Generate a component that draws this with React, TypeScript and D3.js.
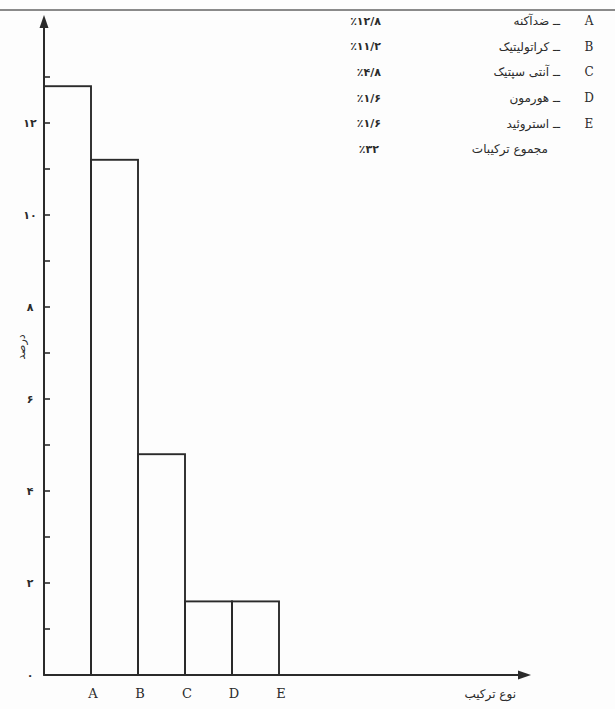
import React from "react";
import * as d3 from "d3";

const categories = ["A", "B", "C", "D", "E"];
const values = [12.8, 11.2, 4.8, 1.6, 1.6];
const legendNames = ["ضدآکنه", "کراتولیتیک", "آنتی سپتیک", "هورمون", "استروئید"];
const legendPercents = ["٪۱۲/۸", "٪۱۱/۲", "٪۴/۸", "٪۱/۶", "٪۱/۶"];
const totalLabel = "مجموع ترکیبات";
const totalPercent = "٪۳۲";
const yTickValues = [0, 2, 4, 6, 8, 10, 12];
const yTickLabels = ["۰", "۲", "۴", "۶", "۸", "۱۰", "۱۲"];
const yMinorTicks = [1, 2, 3, 4, 5, 6, 7, 8, 9, 10, 11, 12, 13];
const yTitle = "درصد";
const xTitle = "نوع ترکیب";

const W = 615;
const H = 709;
const ink = "#2b2b2b";
const persianFont = "'DejaVu Sans', sans-serif";
const letterFont = "'DejaVu Serif', serif";

export default function App() {
  const y = d3.scaleLinear().domain([0, 12]).range([675, 123]);
  const x = d3.scaleBand<string>().domain(categories).range([44, 279]).padding(0);
  const axisX = 44;
  const base = y(0);
  const legendY = d3.scaleLinear().domain([0, 5]).range([21, 149]);

  return (
    <svg
      width={W}
      height={H}
      style={{ position: "absolute", left: 0, top: 0, background: "#fff" }}
    >
      <rect x={0} y={0} width={W} height={H} fill="#fdfdfd" />
      {/* page border line at top */}
      <line x1={0} x2={W} y1={10} y2={10} stroke="#8a8a8a" strokeWidth={2} />

      {/* bars */}
      {categories.map((c, i) => (
        <rect
          key={c}
          x={x(c)}
          y={y(values[i])}
          width={x.bandwidth()}
          height={base - y(values[i])}
          fill="none"
          stroke={ink}
          strokeWidth={1.9}
        />
      ))}

      {/* y axis */}
      <line x1={axisX} x2={axisX} y1={base} y2={24} stroke={ink} strokeWidth={2} />
      <path d={`M${axisX - 4.5},${28} L${axisX},${15} L${axisX + 4.5},${28} Z`} fill={ink} />
      {yMinorTicks.map((t) => (
        <line key={t} x1={axisX} x2={axisX + 6} y1={y(t)} y2={y(t)} stroke={ink} strokeWidth={1.6} />
      ))}
      {yTickValues.map((t, i) => (
        <text
          key={t}
          x={30}
          y={y(t)}
          dy="0.35em"
          textAnchor="middle"
          fontFamily={persianFont}
          fontSize={11}
          fontWeight="bold"
          fill={ink}
        >
          {yTickLabels[i]}
        </text>
      ))}
      <text
        transform={`translate(21,347) rotate(-90)`}
        textAnchor="middle"
        dy="0.35em"
        fontFamily={persianFont}
        fontSize={11}
        fill={ink}
        direction="rtl"
      >
        {yTitle}
      </text>

      {/* x axis */}
      <line x1={axisX} x2={522} y1={base} y2={base} stroke={ink} strokeWidth={2} />
      <path d={`M${518},${base - 4.5} L${531},${base} L${518},${base + 4.5} Z`} fill={ink} />
      {categories.map((c) => (
        <text
          key={c}
          x={(x(c) as number) + x.bandwidth() + 2}
          y={698}
          textAnchor="middle"
          fontFamily={letterFont}
          fontSize={13}
          fill={ink}
        >
          {c}
        </text>
      ))}
      <text
        x={516}
        y={698}
        textAnchor="start"
        direction="rtl"
        fontFamily={persianFont}
        fontSize={12}
        fill={ink}
      >
        {xTitle}
      </text>

      {/* legend */}
      {categories.map((c, i) => (
        <g key={c}>
          <text
            x={589}
            y={legendY(i)}
            dy="0.35em"
            textAnchor="middle"
            fontFamily={letterFont}
            fontSize={12}
            fill={ink}
          >
            {c}
          </text>
          <text
            x={560}
            y={legendY(i)}
            dy="0.35em"
            textAnchor="start"
            direction="rtl"
            fontFamily={persianFont}
            fontSize={12}
            fill={ink}
          >
            {"ــ " + legendNames[i]}
          </text>
          <text
            x={381}
            y={legendY(i)}
            dy="0.35em"
            textAnchor="end"
            direction="ltr"
            unicodeBidi="bidi-override"
            fontFamily={persianFont}
            fontSize={11}
            fontWeight="bold"
            fill={ink}
          >
            {legendPercents[i]}
          </text>
        </g>
      ))}
      <text
        x={548}
        y={legendY(5)}
        dy="0.35em"
        textAnchor="start"
        direction="rtl"
        fontFamily={persianFont}
        fontSize={12}
        fill={ink}
      >
        {totalLabel}
      </text>
      <text
        x={379}
        y={legendY(5)}
        dy="0.35em"
        textAnchor="end"
        direction="ltr"
        unicodeBidi="bidi-override"
        fontFamily={persianFont}
        fontSize={11}
        fontWeight="bold"
        fill={ink}
      >
        {totalPercent}
      </text>
    </svg>
  );
}
